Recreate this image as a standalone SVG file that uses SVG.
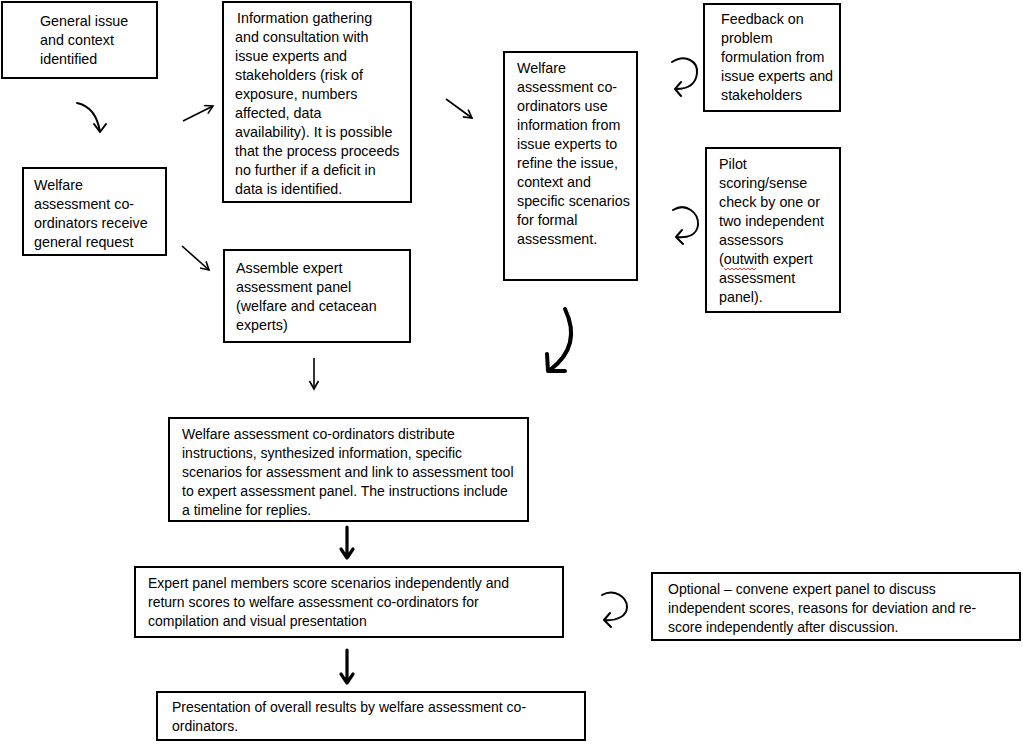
<svg xmlns="http://www.w3.org/2000/svg" width="1023" height="748" viewBox="0 0 1023 748">
<style>
.box{fill:#fff;stroke:#000;stroke-width:2}
.t{font-family:"Liberation Sans",Arial,sans-serif;font-size:14.3px;fill:#000}
.m{font-family:"Liberation Sans",Arial,sans-serif;font-size:14px;fill:#000}
.s{font-family:"Liberation Sans",Arial,sans-serif;font-size:14px;fill:#000}
.c{fill:none;stroke:#000;stroke-width:1.6}
.c2{fill:none;stroke:#000;stroke-width:2;stroke-linecap:round;stroke-linejoin:round}
.k{fill:none;stroke:#000;stroke-width:3.2;stroke-linecap:round;stroke-linejoin:round}
.kk{fill:none;stroke:#000;stroke-width:4;stroke-linecap:round;stroke-linejoin:round}
</style>
<defs>
<marker id="h" markerWidth="12" markerHeight="12" refX="9" refY="5" orient="auto" markerUnits="userSpaceOnUse">
<path d="M1,0.5 L9,5 L1,9.5" fill="none" stroke="#000" stroke-width="1.6"/>
</marker>
</defs>
<rect width="1023" height="748" fill="#fff"/>

<g id="n1">
<rect class="box" x="2" y="2" width="155" height="76"/>
<text class="t" x="40" y="26">General issue</text>
<text class="t" x="40" y="45">and context</text>
<text class="t" x="40" y="64">identified</text>
</g>

<g id="n2">
<rect class="box" x="223" y="2" width="188" height="200"/>
<text class="t" x="237" y="23">Information gathering</text>
<text class="t" x="235" y="42">and consultation with</text>
<text class="t" x="235" y="61">issue experts and</text>
<text class="t" x="235" y="80">stakeholders (risk of</text>
<text class="t" x="235" y="99">exposure, numbers</text>
<text class="t" x="235" y="118">affected, data</text>
<text class="t" x="235" y="137">availability). It is possible</text>
<text class="t" x="235" y="156">that the process proceeds</text>
<text class="t" x="235" y="175">no further if a deficit in</text>
<text class="t" x="235" y="194">data is identified.</text>
</g>

<g id="n3">
<rect class="box" x="23" y="168" width="143" height="87"/>
<text class="t" x="34" y="190">Welfare</text>
<text class="t" x="34" y="209">assessment co-</text>
<text class="t" x="34" y="228">ordinators receive</text>
<text class="t" x="34" y="247">general request</text>
</g>

<g id="n4">
<rect class="box" x="224" y="250" width="186" height="92"/>
<text class="t" x="236" y="273">Assemble expert</text>
<text class="t" x="236" y="292">assessment panel</text>
<text class="t" x="236" y="311">(welfare and cetacean</text>
<text class="t" x="236" y="330">experts)</text>
</g>

<g id="n5">
<rect class="box" x="504" y="52" width="133" height="228"/>
<text class="t" x="517" y="73">Welfare</text>
<text class="t" x="517" y="92">assessment co-</text>
<text class="t" x="517" y="111">ordinators use</text>
<text class="t" x="517" y="130">information from</text>
<text class="t" x="517" y="149">issue experts to</text>
<text class="t" x="517" y="168">refine the issue,</text>
<text class="t" x="517" y="187">context and</text>
<text class="t" x="517" y="206">specific scenarios</text>
<text class="t" x="517" y="225">for formal</text>
<text class="t" x="517" y="244">assessment.</text>
</g>

<g id="n6">
<rect class="box" x="704" y="4" width="136" height="107"/>
<text class="t" x="721" y="24">Feedback on</text>
<text class="t" x="721" y="43">problem</text>
<text class="t" x="721" y="62">formulation from</text>
<text class="t" x="721" y="81">issue experts and</text>
<text class="t" x="721" y="100">stakeholders</text>
</g>

<g id="n7">
<rect class="box" x="706" y="148" width="134" height="164"/>
<text class="t" x="719" y="169">Pilot</text>
<text class="t" x="719" y="188">scoring/sense</text>
<text class="t" x="719" y="207">check by one or</text>
<text class="t" x="719" y="226">two independent</text>
<text class="t" x="719" y="245">assessors</text>
<text class="t" x="719" y="264">(outwith expert</text>
<text class="t" x="719" y="283">assessment</text>
<text class="t" x="719" y="302">panel).</text>
<path d="M724,268 l2,2 l2,-2 l2,2 l2,-2 l2,2 l2,-2 l2,2 l2,-2 l2,2 l2,-2 l2,2 l2,-2 l2,2 l2,-2 l2,2 l2,-2" fill="none" stroke="#d00" stroke-width="0.8"/>
</g>

<g id="n8">
<rect class="box" x="169" y="418" width="359" height="103"/>
<text class="m" x="182" y="439">Welfare assessment co-ordinators distribute</text>
<text class="m" x="182" y="458">instructions, synthesized information, specific</text>
<text class="m" x="182" y="477">scenarios for assessment and link to assessment tool</text>
<text class="m" x="182" y="496">to expert assessment panel. The instructions include</text>
<text class="m" x="182" y="515">a timeline for replies.</text>
</g>

<g id="n9">
<rect class="box" x="135" y="567" width="428" height="70"/>
<text class="s" x="148" y="588">Expert panel members score scenarios independently and</text>
<text class="s" x="148" y="607">return scores to welfare assessment co-ordinators for</text>
<text class="s" x="148" y="626">compilation and visual presentation</text>
</g>

<g id="n10">
<rect class="box" x="652" y="573" width="368" height="67"/>
<text class="s" x="668" y="594">Optional – convene expert panel to discuss</text>
<text class="s" x="668" y="613">independent scores, reasons for deviation and re-</text>
<text class="s" x="668" y="632">score  independently after discussion.</text>
</g>

<g id="n11">
<rect class="box" x="157" y="692" width="428" height="48"/>
<text class="s" x="172" y="712">Presentation of overall results by welfare assessment co-</text>
<text class="s" x="172" y="731">ordinators.</text>
</g>

<g id="connectors">
<path class="c2" d="M77,103 Q96,107 100,132 M94,124 L100,132 L106,124"/>
<path class="c" d="M183,121 L213,106" marker-end="url(#h)"/>
<path class="c" d="M182,246 L209,270" marker-end="url(#h)"/>
<path class="c" d="M314,358 L314,389" marker-end="url(#h)"/>
<path class="c" d="M446,99 L472,118" marker-end="url(#h)"/>
<path class="kk" d="M565,309 C575,330 574,352 550,370 M547,354 L548,371 L565,371"/>
<path class="c2" d="M672,62 C686,53 698,62 697,73 C696,84 688,89 676,89 M681,82 L675,89 L681,96"/>
<path class="c2" d="M673,210 C686,202 699,213 698,225 C697,234 689,238 677,237 M682,230 L676,237 L683,244"/>
<path class="c2" d="M602,595 C614,588 627,597 627,607 C627,616 617,621 605,620 M610,613 L604,620 L611,627"/>
<path class="k" d="M347,527 L347,558 M341,549 L347,558 L353,549"/>
<path class="k" d="M347,650 L347,683 M341,674 L347,683 L353,674"/>
</g>
</svg>
